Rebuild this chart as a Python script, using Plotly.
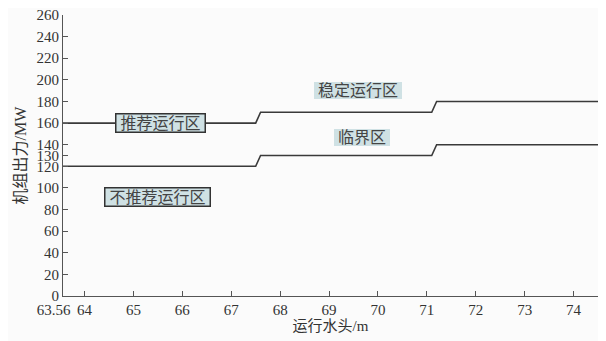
import plotly.graph_objects as go

head_x = [63.56, 67.5, 67.6, 71.1, 71.2, 74.5]
upper_y = [160, 160, 170, 170, 180, 180]
lower_y = [120, 120, 130, 130, 140, 140]

x_ticks = [63.56, 64, 65, 66, 67, 68, 69, 70, 71, 72, 73, 74]
x_ticktext = ["63.56", "64", "65", "66", "67", "68", "69", "70", "71", "72", "73", "74"]
y_ticks = [0, 20, 40, 60, 80, 100, 120, 130, 140, 160, 180, 200, 220, 240, 260]

labels = ["推荐运行区", "不推荐运行区", "稳定运行区", "临界区"]
label_x = [65.55, 65.5, 69.6, 69.68]
label_y = [160, 91.5, 190, 147]
label_border = [True, True, False, False]

FONT = "Liberation Serif, Noto Sans CJK SC, serif"
PAD = "\u00a0"

# first label sits left of the axis origin, as in the reference
shown_ticktext = [x_ticktext[0] + "\u00a0" * 5] + x_ticktext[1:]

fig = go.Figure()
fig.add_trace(go.Scatter(x=head_x, y=upper_y, mode="lines",
                         line=dict(color="#3a3a3a", width=1.6), showlegend=False))
fig.add_trace(go.Scatter(x=head_x, y=lower_y, mode="lines",
                         line=dict(color="#3a3a3a", width=1.6), showlegend=False))

for t, x, y, b in zip(labels, label_x, label_y, label_border):
    fig.add_annotation(x=x, y=y, text=PAD + t + PAD, showarrow=False,
                       font=dict(family=FONT, size=16, color="#444444"),
                       bgcolor="#cfe1e4",
                       bordercolor="#333333" if b else "rgba(0,0,0,0)",
                       borderwidth=1.5 if b else 0, borderpad=0)

fig.update_layout(
    width=598, height=333,
    margin=dict(l=55, r=8, t=7, b=45),
    paper_bgcolor="#fbfbfb", plot_bgcolor="#fbfbfb",
    font=dict(family=FONT, size=15, color="#333333"),
    xaxis=dict(range=[63.56, 74.5], tickvals=x_ticks, ticktext=shown_ticktext,
               tickangle=0, automargin=False, ticklabeloverflow="allow",
               showgrid=False, zeroline=False, showline=True, linecolor="#555555",
               linewidth=1, ticks="inside", ticklen=5, tickcolor="#555555",
               title=dict(text="运行水头/m", standoff=2, font=dict(size=15))),
    yaxis=dict(range=[0, 260], tickvals=y_ticks, automargin=False,
               ticklabeloverflow="allow",
               showgrid=False, zeroline=False, showline=True, linecolor="#555555",
               linewidth=1, ticks="inside", ticklen=5, tickcolor="#555555",
               title=dict(text="机组出力/MW", standoff=5, font=dict(size=16))),
)

fig.write_html("out.html")
